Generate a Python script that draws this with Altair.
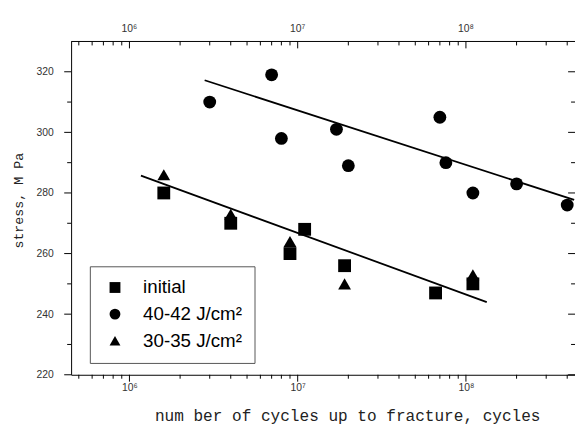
import altair as alt
import pandas as pd

# ---------------- data ----------------
initial_cycles = [1.6e6, 4.0e6, 9.0e6, 1.1e7, 1.9e7, 6.6e7, 1.1e8]
initial_stress = [280, 270, 260, 268, 256, 247, 250]

high_cycles = [3.0e6, 7.0e6, 8.0e6, 1.7e7, 2.0e7, 7.0e7, 7.6e7, 1.1e8, 2.0e8, 4.0e8]
high_stress = [310, 319, 298, 301, 289, 305, 290, 280, 283, 276]

low_cycles = [1.6e6, 4.0e6, 9.0e6, 1.9e7, 1.1e8]
low_stress = [286, 273, 264, 250, 253]

fit_high_cycles = [2.8e6, 4.4e8]
fit_high_stress = [317.2, 277.7]
fit_low_cycles = [1.17e6, 1.33e8]
fit_low_stress = [285.7, 244.0]

series_names = ["initial", "40-42 J/cm²", "30-35 J/cm²"]
series_shapes = ["square", "circle", "triangle-up"]

x_major = [1e6, 1e7, 1e8]
x_major_labels = ["10⁶", "10⁷", "10⁸"]
x_minor = [5e5, 6e5, 7e5, 8e5, 9e5,
           2e6, 3e6, 4e6, 5e6, 6e6, 7e6, 8e6, 9e6,
           2e7, 3e7, 4e7, 5e7, 6e7, 7e7, 8e7, 9e7,
           2e8, 3e8, 4e8]
y_major = [220, 240, 260, 280, 300, 320]
y_minor = [230, 250, 270, 290, 310]

# ---------------- tables ----------------
pts = pd.concat([
    pd.DataFrame({"cycles": initial_cycles, "stress": initial_stress, "series": series_names[0]}),
    pd.DataFrame({"cycles": high_cycles, "stress": high_stress, "series": series_names[1]}),
    pd.DataFrame({"cycles": low_cycles, "stress": low_stress, "series": series_names[2]}),
], ignore_index=True)

fits = pd.concat([
    pd.DataFrame({"cycles": fit_high_cycles, "stress": fit_high_stress, "fit": "high"}),
    pd.DataFrame({"cycles": fit_low_cycles, "stress": fit_low_stress, "fit": "low"}),
], ignore_index=True)

top_labels = pd.DataFrame({"v": x_major, "label": x_major_labels})

W, H = 511, 338
xs = alt.Scale(type="log", domain=[4.5e5, 4.45e8], nice=False)
ys = alt.Scale(domain=[220, 330], nice=False, zero=False)

label_expr = ""
for v, lab in zip(x_major, x_major_labels):
    label_expr += f"datum.value == {v:.0f} ? '{lab}' : "
label_expr += "''"

bottom_axis = alt.Axis(orient="bottom", values=x_major, labelExpr=label_expr,
                       ticks=False, tickSize=0, grid=False, labelPadding=8,
                       title="num ber of cycles up to fracture, cycles",
                       titleFont="Liberation Mono", titleFontSize=16.3,
                       titleX=280, titleY=46, titleBaseline="alphabetic",
                       titleAlign="center", titleAnchor="middle")
left_axis = alt.Axis(orient="left", values=y_major, ticks=False, tickSize=0,
                     grid=False, labelPadding=18,
                     title="stress, M Pa", titleFont="Liberation Mono",
                     titleFontSize=13.5, titleX=-53, titleY=161, titleAngle=270,
                     titleBaseline="middle", titleAlign="center")


def X(field):
    return alt.X(field, scale=xs, axis=bottom_axis)


def Y(field):
    return alt.Y(field, scale=ys, axis=left_axis)


points = alt.Chart(pts).mark_point(filled=True, opacity=1, size=169, color="black").encode(
    x=X("cycles:Q"),
    y=Y("stress:Q"),
    shape=alt.Shape("series:N",
                    scale=alt.Scale(domain=series_names, range=series_shapes),
                    legend=alt.Legend(title=None, orient="none", legendX=19, legendY=228,
                                      padding=12, strokeColor="#555555", fillColor="white",
                                      labelFont="Liberation Sans", labelFontSize=19,
                                      labelColor="black", symbolSize=121,
                                      symbolStrokeWidth=0, symbolFillColor="black",
                                      rowPadding=7, labelOffset=19, symbolOffset=4,
                                      labelExpr="datum.label + '\u2003\u2003'")),
)

lines = alt.Chart(fits).mark_line(color="black", strokeWidth=1.8).encode(
    x=X("cycles:Q"),
    y=Y("stress:Q"),
    detail="fit:N",
)

top_text = alt.Chart(top_labels).mark_text(
    font="Liberation Sans", fontSize=10.5, color="#333333",
    baseline="alphabetic", align="center").encode(
    x=X("v:Q"), y=alt.value(-10), text="label:N")


def xticks(values, y0, y1):
    return alt.Chart(pd.DataFrame({"v": values})).mark_rule(color="black", strokeWidth=1).encode(
        x=X("v:Q"), y=alt.value(y0), y2=alt.value(y1))


def yticks(values, x0, x1):
    return alt.Chart(pd.DataFrame({"v": values})).mark_rule(color="black", strokeWidth=1).encode(
        y=Y("v:Q"), x=alt.value(x0), x2=alt.value(x1))


tick_layers = [
    xticks(x_major, 0, 7), xticks(x_minor, 0, 4),          # top, inward
    xticks(x_major, H, H + 7), xticks(x_minor, H, H + 4),  # bottom, outward
    yticks(y_major, -7, 0), yticks(y_minor, -4, 0),        # left, outward
    yticks(y_major, W - 7, W), yticks(y_minor, W - 4, W),  # right, inward
]

top_line = alt.Chart(pd.DataFrame({"v": [x_major[0]]})).mark_rule(color="black", strokeWidth=1).encode(
    x=alt.value(0), x2=alt.value(W), y=alt.value(0))

chart = alt.layer(lines, points, top_text, top_line, *tick_layers).properties(
    width=W, height=H,
    padding={"left": 64, "top": 31, "right": 0, "bottom": 48},
    autosize=alt.AutoSizeParams(type="none"),
).configure_view(stroke=None).configure_axis(
    labelFont="Liberation Sans", labelFontSize=10.5, labelColor="#333333",
    titleColor="#222222", titleFontWeight="normal",
    domainColor="black", domainWidth=1,
)

chart.save("out.html", embed_options={"renderer": "svg", "actions": False})
